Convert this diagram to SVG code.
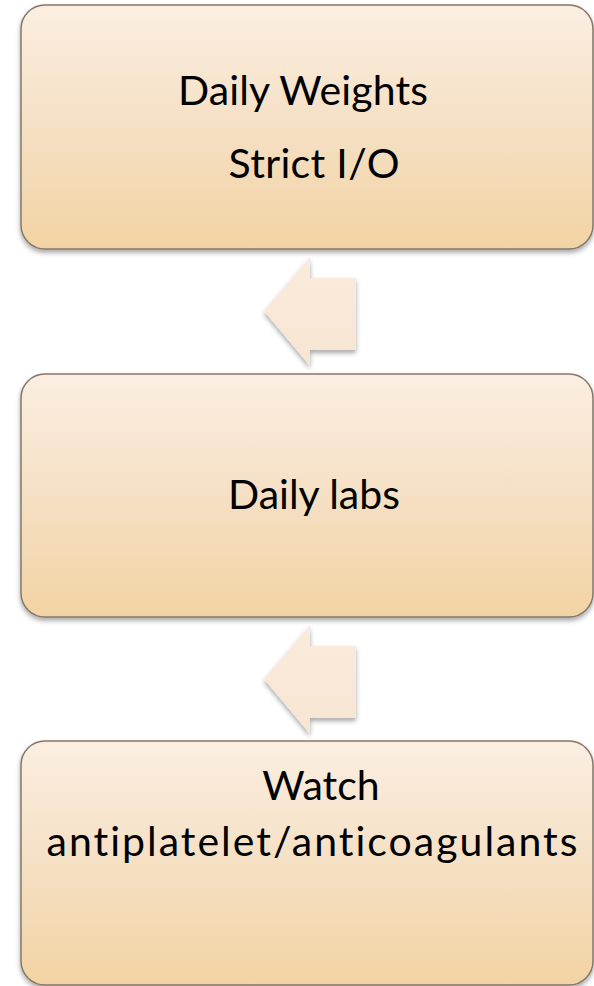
<svg xmlns="http://www.w3.org/2000/svg" width="594" height="986" viewBox="0 0 594 986">
<defs>
<linearGradient id="boxGrad" x1="0" y1="0" x2="0" y2="1">
<stop offset="0" stop-color="#FBEEE1"/>
<stop offset="0.5" stop-color="#F5E0C4"/>
<stop offset="1" stop-color="#F2D3A3"/>
</linearGradient>
<linearGradient id="arrGrad" x1="0" y1="0" x2="0" y2="1">
<stop offset="0" stop-color="#FAEBDC"/>
<stop offset="1" stop-color="#F7E5D2"/>
</linearGradient>
<filter id="shadow" x="-10%" y="-10%" width="120%" height="125%">
<feGaussianBlur in="SourceAlpha" stdDeviation="2.5"/>
<feOffset dx="0" dy="3" result="b"/>
<feComponentTransfer><feFuncA type="linear" slope="0.35"/></feComponentTransfer>
<feMerge><feMergeNode/><feMergeNode in="SourceGraphic"/></feMerge>
</filter>
</defs>
<style>
.box{fill:url(#boxGrad);stroke:#857868;stroke-width:1.5;filter:url(#shadow)}
.arr{fill:url(#arrGrad);stroke:none;filter:url(#shadow)}
.t{font-family:Lato,"Open Sans","Liberation Sans",sans-serif;font-size:41px;fill:#000;text-anchor:middle;font-variant-ligatures:none;font-feature-settings:"liga" 0}
</style>
<rect width="594" height="986" fill="#FFFFFF"/>
<g id="connectors">
<polygon class="arr" points="356,278 310,278 310,257 264,311 310,366 310,350 356,350"/>
<polygon class="arr" points="356,646 310,646 310,625 264,679 310,734 310,718 356,718"/>
</g>
<g id="node1">
<rect class="box" x="21" y="5" width="572" height="244" rx="24" ry="24"/>
<text class="t" x="303" y="105" textLength="250">Daily Weights</text>
<text class="t" x="314" y="178" textLength="171">Strict I/O</text>
</g>
<g id="node2">
<rect class="box" x="21" y="374" width="572" height="243" rx="24" ry="24"/>
<text class="t" x="314" y="509">Daily labs</text>
</g>
<g id="node3">
<rect class="box" x="21" y="741" width="572" height="244" rx="24" ry="24"/>
<text class="t" x="321" y="800">Watch</text>
<text class="t" x="312" y="856" textLength="531">antiplatelet/anticoagulants</text>
</g>
</svg>
